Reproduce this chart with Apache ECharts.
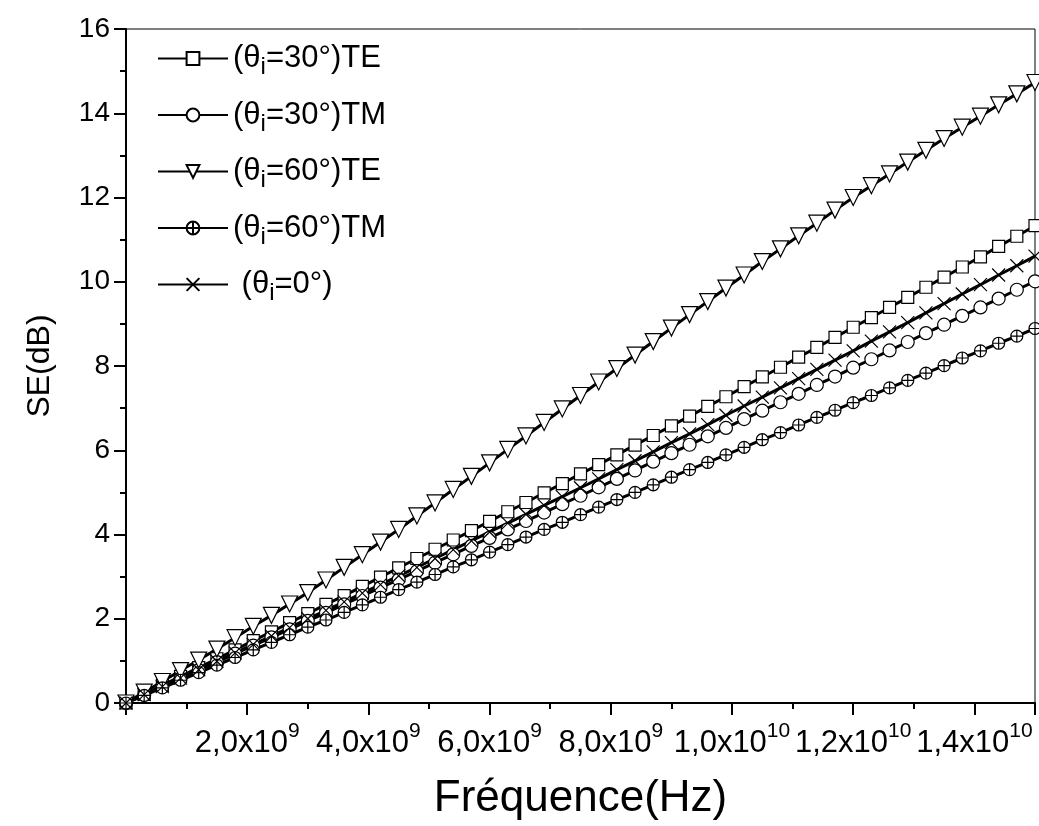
<!DOCTYPE html>
<html>
<head>
<meta charset="utf-8">
<script src="https://cdn.jsdelivr.net/npm/echarts@6/dist/echarts.min.js"></script>
<style>
  html, body { margin: 0; padding: 0; background: #fff; }
  #chart { width: 1039px; height: 826px; }
</style>
</head>
<body>
<div id="chart"></div>
<script>
// frequence en GHz (pas de 0.3 GHz)
var freqGHz = [0,0.3,0.6,0.9,1.2,1.5,1.8,2.1,2.4,2.7,3.0,3.3,3.6,3.9,4.2,4.5,4.8,5.1,5.4,5.7,6.0,
  6.3,6.6,6.9,7.2,7.5,7.8,8.1,8.4,8.7,9.0,9.3,9.6,9.9,10.2,10.5,10.8,11.1,11.4,11.7,12.0,
  12.3,12.6,12.9,13.2,13.5,13.8,14.1,14.4,14.7,15.0];

var te30 = [0,0.21,0.42,0.63,0.84,1.05,1.26,1.48,1.69,1.91,2.12,2.34,2.55,2.77,2.99,3.21,3.43,3.65,3.87,4.09,4.31,
  4.54,4.76,4.99,5.21,5.44,5.66,5.89,6.12,6.35,6.58,6.81,7.04,7.27,7.51,7.74,7.97,8.21,8.44,8.68,8.92,
  9.15,9.39,9.63,9.87,10.11,10.35,10.59,10.84,11.08,11.33];
var tm30 = [0,0.19,0.39,0.58,0.78,0.97,1.17,1.36,1.56,1.75,1.95,2.14,2.34,2.54,2.74,2.93,3.13,3.33,3.53,3.73,3.92,
  4.12,4.32,4.52,4.72,4.92,5.12,5.32,5.52,5.73,5.93,6.13,6.33,6.53,6.74,6.94,7.14,7.34,7.55,7.75,7.96,
  8.16,8.37,8.57,8.78,8.98,9.19,9.39,9.60,9.81,10.01];
var te60 = [0,0.26,0.51,0.77,1.02,1.28,1.55,1.82,2.08,2.35,2.62,2.92,3.22,3.52,3.82,4.12,4.44,4.75,5.07,5.38,5.70,
  6.02,6.34,6.66,6.98,7.30,7.62,7.94,8.26,8.58,8.90,9.22,9.53,9.85,10.16,10.48,10.78,11.09,11.39,11.70,12.00,
  12.28,12.56,12.84,13.12,13.40,13.67,13.93,14.20,14.46,14.73];
var tm60 = [0,0.18,0.36,0.54,0.72,0.90,1.08,1.26,1.44,1.62,1.80,1.97,2.15,2.33,2.51,2.69,2.87,3.05,3.23,3.40,3.58,
  3.76,3.94,4.12,4.29,4.47,4.65,4.83,5.00,5.18,5.36,5.54,5.71,5.89,6.07,6.25,6.42,6.60,6.78,6.95,7.13,
  7.30,7.48,7.66,7.83,8.01,8.19,8.36,8.54,8.71,8.89];
var inc0 = [0,0.20,0.39,0.59,0.79,0.99,1.19,1.39,1.59,1.79,2.00,2.20,2.40,2.61,2.81,3.02,3.22,3.43,3.64,3.85,4.06,
  4.27,4.48,4.69,4.90,5.11,5.32,5.54,5.75,5.96,6.18,6.39,6.61,6.83,7.05,7.26,7.48,7.70,7.92,8.14,8.36,
  8.59,8.81,9.03,9.26,9.48,9.71,9.93,10.16,10.38,10.61];

var seriesNames = ['(θi=30°)TE', '(θi=30°)TM', '(θi=60°)TE', '(θi=60°)TM', ' (θi=0°)'];

var FONT = 'Liberation Sans';
var crossCircle = 'path://M0,-10A10,10,0,1,1,0,10A10,10,0,1,1,0,-10ZM-10,0L10,0M0,-10L0,10';
var xMark = 'path://M-10,-10L10,10M-10,10L10,-10';

function pairs(ys) {
  var out = [];
  for (var i = 0; i < freqGHz.length; i++) out.push([freqGHz[i], ys[i]]);
  return out;
}

function mkSeries(name, ys, symbol, size, rot) {
  return {
    name: name,
    type: 'line',
    data: pairs(ys),
    symbol: symbol,
    symbolSize: size,
    symbolRotate: rot || 0,
    showAllSymbol: true,
    lineStyle: { color: '#000', width: 3 },
    itemStyle: { color: '#fff', borderColor: '#000', borderWidth: 1.2 },
    emphasis: { disabled: true },
    animation: false
  };
}

var chart = echarts.init(document.getElementById('chart'));
chart.setOption({
  backgroundColor: '#fff',
  animation: false,
  grid: {
    left: 126, right: 4, top: 29, bottom: 123,
    show: true, borderColor: '#000', borderWidth: 1
  },
  legend: {
    orient: 'vertical',
    left: 152, top: 38,
    itemWidth: 70, itemHeight: 16,
    itemGap: 20,
    data: seriesNames,
    textStyle: {
      fontFamily: FONT, fontSize: 31, color: '#000',
      rich: { sub: { fontFamily: FONT, fontSize: 24, padding: [18, 0, 0, 0] } }
    },
    formatter: function (n) { return n.replace('θi', 'θ{sub|i}'); }
  },
  xAxis: {
    type: 'value',
    min: 0, max: 15, interval: 2,
    name: 'Fréquence(Hz)',
    nameLocation: 'middle',
    nameGap: 74,
    nameTextStyle: { fontFamily: FONT, fontSize: 44, color: '#000' },
    axisLine: { lineStyle: { color: '#000', width: 2 } },
    axisTick: { length: 12, lineStyle: { width: 2, color: '#000' } },
    minorTick: { show: true, splitNumber: 2, length: 6, lineStyle: { width: 2, color: '#000' } },
    splitLine: { show: false },
    axisLabel: {
      margin: 18,
      fontFamily: FONT, fontSize: 31, color: '#000',
      rich: { sup: { fontFamily: FONT, fontSize: 21, padding: [0, 0, 24, 0] } },
      formatter: function (v) {
        if (v === 0) return '';
        var e = v >= 10 ? 10 : 9;
        var m = (e === 10 ? v / 10 : v).toFixed(1).replace('.', ',');
        return m + 'x10{sup|' + e + '}';
      }
    }
  },
  yAxis: {
    type: 'value',
    min: 0, max: 16, interval: 2,
    name: 'SE(dB)',
    nameLocation: 'middle',
    nameGap: 70,
    nameTextStyle: { fontFamily: FONT, fontSize: 32, color: '#000' },
    axisLine: { lineStyle: { color: '#000', width: 2 } },
    axisTick: { length: 12, lineStyle: { width: 2, color: '#000' } },
    minorTick: { show: true, splitNumber: 2, length: 6, lineStyle: { width: 2, color: '#000' } },
    splitLine: { show: false },
    axisLabel: { margin: 16, fontFamily: FONT, fontSize: 28, color: '#000' }
  },
  series: [
    mkSeries(seriesNames[0], te30, 'rect', 12),
    mkSeries(seriesNames[1], tm30, 'circle', 13),
    mkSeries(seriesNames[2], te60, 'triangle', 16, 180),
    mkSeries(seriesNames[3], tm60, crossCircle, 12),
    mkSeries(seriesNames[4], inc0, xMark, 13)
  ]
});
</script>
</body>
</html>
